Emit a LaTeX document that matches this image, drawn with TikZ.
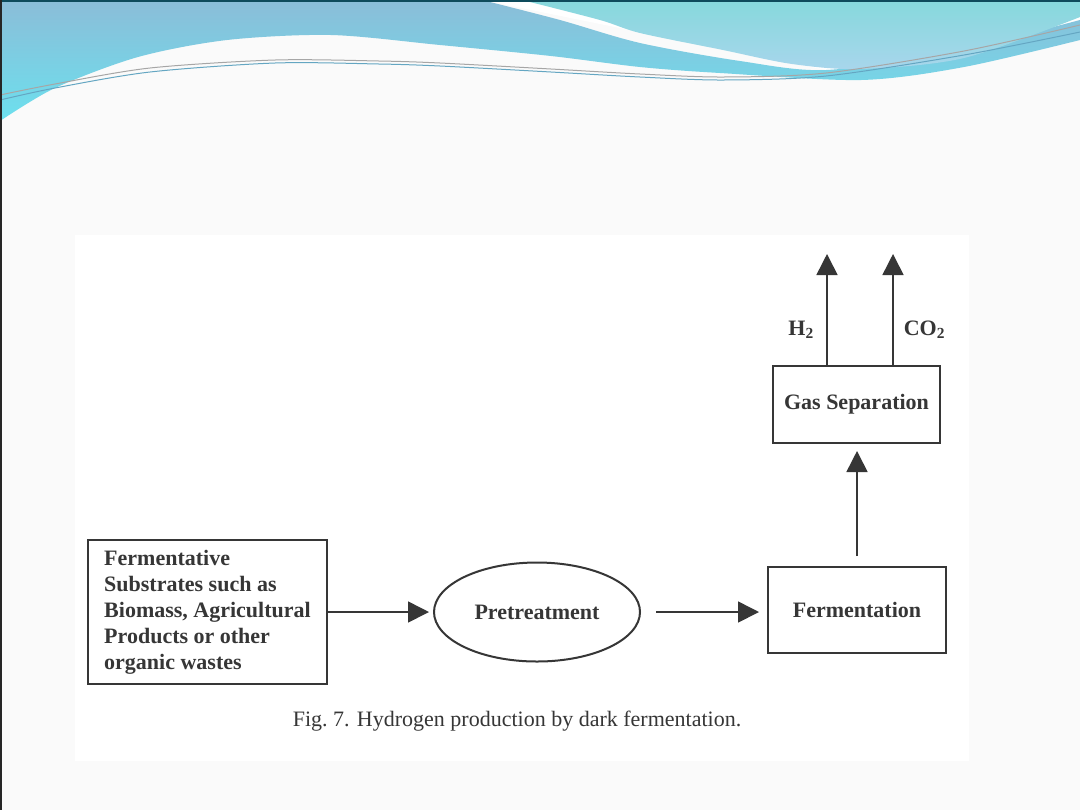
\documentclass[tikz,border=0pt]{standalone}
\usepackage{fontspec}
\setmainfont{Liberation Serif}
\usetikzlibrary{arrows.meta, positioning, shapes.geometric, calc}
\definecolor{slidebg}{HTML}{FAFAFA}
\definecolor{ink}{HTML}{363636}
\definecolor{bandtop}{HTML}{8BBDD8}
\definecolor{bandbot}{HTML}{6CE0EE}
\definecolor{wavetop}{HTML}{86D8DC}
\definecolor{wavebot}{HTML}{A8D6EC}
\definecolor{rimline}{HTML}{0E4B5C}

\begin{document}
\begin{tikzpicture}[x=0.5pt, y=-0.5pt, >={Triangle[length=10.5pt, width=10.5pt]},
  box/.style={draw=ink, line width=1pt, text=ink, inner sep=0pt,
    font=\fontsize{11}{13}\selectfont\bfseries},
  flow/.style={draw=ink, line width=0.8pt, ->},
  gaslabel/.style={text=ink, inner sep=0pt, font=\fontsize{11}{13}\selectfont\bfseries}]
  \useasboundingbox (0,0) rectangle (1080,810);
  \fill[slidebg] (0,0) rectangle (1080,810);
  \fill[white] (482,0) -- (1080,0) -- (1080,40) -- (826,70) -- (482,0) -- cycle;
  \shade[top color=bandtop, bottom color=bandbot] (0,0) -- (482,0)
    -- plot[smooth] coordinates {(482,0) (560,20) (640,43) (740,61) (826,70) (950,52) (1080,20)}
    -- (1080,40)
    -- plot[smooth] coordinates {(1080,40) (964,67) (861,80) (720,73) (640,67) (551,56) (440,45) (331,35) (227,40) (138,57) (55,88) (0,121)}
    -- cycle;
  \shade[top color=wavetop, bottom color=wavebot] (522,0) -- (1080,0) -- (1080,17)
    -- plot[smooth] coordinates {(1080,17) (964,58) (861,69) (792,64) (723,50) (640,33) (600,20) (522,0)}
    -- cycle;
  \draw[gray!70, line width=0.5pt] plot[smooth] coordinates {(0,95) (55,84) (150,68) (275,60) (379,61) (440,63) (551,69) (640,74) (723,77) (826,73) (964,51) (1080,25)};
  \draw[cyan!50!gray, line width=0.5pt] plot[smooth] coordinates {(0,100) (55,88) (150,72) (275,63) (379,64) (440,66) (551,72) (640,77) (723,80) (826,76) (964,55) (1080,32)};
  \fill[rimline] (0,0) rectangle (1080,2);
  \fill[black!85] (0,0) rectangle (2,810);
  \fill[white] (75,235) rectangle (969,761);

  \node[box, minimum width=119.5pt, minimum height=72pt, align=left] (substrate) at (207.5,612)
    {Fermentative\\Substrates such as\\Biomass, Agricultural\\Products or other\\organic wastes};
  \node[box, ellipse, minimum width=103pt, minimum height=49.5pt] (pretreat) at (537,612) {Pretreatment};
  \node[box, minimum width=89pt, minimum height=43pt] (ferment) at (857,610) {Fermentation};
  \node[box, minimum width=83.5pt, minimum height=38.5pt] (gassep) at (856.5,404.5) {Gas Separation};
  \coordinate (h2) at (827,254);
  \coordinate (co2) at (893,254);

  \draw[flow, shorten >=2pt] (substrate) -- (pretreat);
  \draw[flow, shorten <=7.5pt, shorten >=4pt] (pretreat.east) -- (ferment.west |- pretreat.east);
  \draw[flow, shorten <=5pt, shorten >=3.5pt] (ferment.north) -- (ferment.north |- gassep.south);
  \draw[flow] (gassep.north -| h2) -- node[pos=0.32, left=6pt, gaslabel] {H\textsubscript{2}} (h2);
  \draw[flow] (gassep.north -| co2) -- node[pos=0.32, right=5pt, gaslabel] {CO\textsubscript{2}} (co2);

  \node[text=ink, font=\fontsize{11}{13}\selectfont] (caption) at (517,721) {Fig.~7. Hydrogen production by dark fermentation.};
\end{tikzpicture}
\end{document}
